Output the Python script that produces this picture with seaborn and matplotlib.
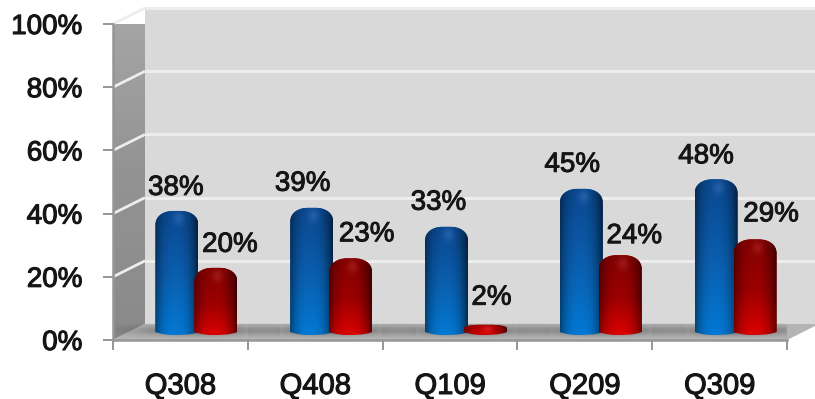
import numpy as np
import pandas as pd
import matplotlib
matplotlib.use("Agg")
import matplotlib.pyplot as plt
import matplotlib.patheffects as pe
import seaborn as sns
from matplotlib.patches import Polygon, PathPatch
from matplotlib.path import Path
from matplotlib.colors import LinearSegmentedColormap, to_rgb

quarters = ["Q308", "Q408", "Q109", "Q209", "Q309"]
blue_values = [38, 39, 33, 45, 48]
red_values = [20, 23, 2, 24, 29]

# label nudges in pixels, relative to the top centre of each bar
blue_nudge = [(-1, 23), (-9, 24), (-8, 24), (-9, 24), (-10, 23)]
red_nudge = [(14, 23), (16, 24), (6, 27), (14, 19), (16, 25)]

W, H = 815, 399
sns.set_theme(style="white")
plt.rcParams["font.family"] = ["Liberation Sans", "DejaVu Sans"]

fig = plt.figure(figsize=(W / 100, H / 100), dpi=100, facecolor="white")
ax = fig.add_axes([113 / W, (H - 340) / H, 674 / W, 316 / H])
ax.patch.set_alpha(0)

df = pd.DataFrame({
    "quarter": quarters * 2,
    "value": blue_values + red_values,
    "series": ["a"] * 5 + ["b"] * 5,
})
sns.barplot(data=df, x="quarter", y="value", hue="series", dodge=True, width=0.578,
            palette=["#0B5AA8", "#A00000"], legend=False, ax=ax, zorder=3,
            saturation=1, linewidth=0)

XMIN, XMAX, YMIN, YMAX = -0.5, 4.5, 0, 100
ppx = 674 / 5      # pixels per category
ppy = 316 / 100    # pixels per percent
DX, DY = 32 / ppx, 16 / ppy   # full depth of the box

# --- the box: side wall, back wall, floor, grid
ax.add_patch(Polygon([(XMIN + DX, DY), (XMAX + DX, DY), (XMAX + DX, YMAX + DY), (XMIN + DX, YMAX + DY)],
                     closed=True, fc="#D9D9D9", ec="none", clip_on=False, zorder=0.2))
wall_cmap = LinearSegmentedColormap.from_list("wall", ["#8A8A8A", "#939393", "#A6A6A6"])
im = ax.imshow(np.linspace(0, 1, 64)[:, None], extent=(XMIN, XMIN + DX, YMAX + DY, YMIN), cmap=wall_cmap,
               aspect="auto", zorder=0.3, clip_on=True)
side = Polygon([(XMIN, 0), (XMIN + DX, DY), (XMIN + DX, YMAX + DY), (XMIN, YMAX)],
               closed=True, transform=ax.transData, fc="none", ec="none")
im.set_clip_path(side)

for tick in range(0, 101, 20):
    if tick > 0:
        ax.plot([XMIN + DX, XMAX + DX], [tick + DY, tick + DY], color="#EDEDED", lw=2.2,
                clip_on=False, zorder=0.4, solid_capstyle="butt")
        ax.plot([XMIN, XMIN + DX], [tick, tick + DY], color="#EDEDED", lw=2.0,
                clip_on=False, zorder=0.4, solid_capstyle="butt")

ax.add_patch(Polygon([(XMIN, 0), (XMAX, 0), (XMAX + DX, DY), (XMIN + DX, DY)],
                     closed=True, fc="#B4B4B4", ec="none", clip_on=False, zorder=0.5))

# --- bars: seaborn's rectangles give position and height, gradients make them cylinders
def cylinder_rgb(top, mid, low, nrow, ncol, cap_frac):
    top, mid, low = map(lambda c: np.array(to_rgb(c)), (top, mid, low))
    t = np.linspace(0, 1, nrow)[:, None, None]
    col = np.where(t < 0.55, top + (mid - top) * t / 0.55, mid + (low - mid) * (t - 0.55) / 0.45)
    u = np.linspace(-1, 1, ncol)[None, :, None]
    prof = 1.04 - 0.52 * np.abs(u + 0.06) ** 2.6
    img = col * prof
    yy = np.linspace(0, 1, nrow)[:, None, None]
    spot = np.exp(-((u - 0.1) / 0.26) ** 2 - ((yy - cap_frac) / (cap_frac * 0.8 + 1e-3)) ** 2)
    return np.clip(img + 0.09 * spot, 0, 1)

def bar_outline(x0, x1, y0, y1):
    ry_top = min(14 / ppy, (y1 - y0) * 0.5)
    ry_bot = 3 / ppy
    rx = (x1 - x0) * 0.42
    verts = [(x0, y0), (x0, y1 - ry_top),
             (x0, y1 - ry_top * 0.35), (x0 + rx * 0.45, y1), (x0 + rx, y1),
             (x1 - rx, y1),
             (x1 - rx * 0.45, y1), (x1, y1 - ry_top * 0.35), (x1, y1 - ry_top),
             (x1, y0),
             (x1 - rx * 0.4, y0 - ry_bot), (x1 - rx, y0 - ry_bot), (x0 + rx, y0 - ry_bot),
             (x0 + rx * 0.4, y0 - ry_bot), (x0, y0), (x0, y0)]
    codes = [Path.MOVETO, Path.LINETO,
             Path.CURVE4, Path.CURVE4, Path.CURVE4,
             Path.LINETO,
             Path.CURVE4, Path.CURVE4, Path.CURVE4,
             Path.LINETO,
             Path.CURVE4, Path.CURVE4, Path.LINETO,
             Path.CURVE4, Path.CURVE4, Path.CURVE4]
    return Path(verts, codes)

BAR_W = 43 / ppx
offx, offy = 16 / ppx, 8 / ppy
styles = {0: ("#0A4488", "#0A5CAA", "#0274CC"), 1: ("#7C0000", "#980000", "#D40000")}
short_style = ("#A00000", "#B80000", "#C80000")
bars = list(ax.patches)
bars = [b for b in bars if isinstance(b, matplotlib.patches.Rectangle) and b.get_height() > 0]
nudges = blue_nudge + red_nudge

# soft shadows on the floor
for i in range(5):
    gx = np.exp(-(np.linspace(-1, 1, 200) / 0.72) ** 2)[None, :]
    gy = np.exp(-((np.linspace(0, 1, 30) - 0.5) / 0.35) ** 2)[:, None]
    rgba = np.zeros((30, 200, 4))
    rgba[..., 3] = 0.38 * gy * gx
    ax.imshow(rgba, extent=(i - 0.62 + offx, i + 0.62 + offx, 0.6, DY), aspect="auto", zorder=0.6)

for idx, b in enumerate(bars):
    series = 0 if idx < 5 else 1
    cx = b.get_x() + b.get_width() / 2 + offx
    h = b.get_height()
    x0, x1 = cx - BAR_W / 2, cx + BAR_W / 2
    y0, y1 = offy, h + offy + 1 / ppy
    z = 3 + series * 0.5
    path = bar_outline(x0, x1, y0, y1)
    clip = PathPatch(path, transform=ax.transData, fc="none", ec="none")
    nrow = max(int((y1 - y0 + 3 / ppy) * ppy), 8)
    style = short_style if nrow < 15 else styles[series]
    img = cylinder_rgb(*style, nrow, 60, min(0.45, 8 / nrow))
    cyl = ax.imshow(img, extent=(x0, x1, y0 - 3 / ppy, y1), aspect="auto", zorder=z + 0.1,
                    interpolation="bilinear", origin="upper")
    cyl.set_clip_path(clip)
    b.set_x(x0); b.set_width(BAR_W); b.set_y(y0); b.set_height(y1 - y0)
    b.set_zorder(z)
    b.set_clip_path(PathPatch(path, transform=ax.transData))
    nx, ny = nudges[idx]
    t = ax.annotate(f"{int(round(h))}%", (cx, y1), xytext=(nx, ny), textcoords="offset pixels",
                    ha="center", va="center", fontsize=20, color="#151515",
                    annotation_clip=False, zorder=6)
    t.set_path_effects([pe.withStroke(linewidth=0.7, foreground="#151515")])

ax.set_xlim(XMIN, XMAX)
ax.set_ylim(YMIN, YMAX)
ax.set_xlabel("")
ax.set_ylabel("")

# --- axes furniture
sns.despine(ax=ax, top=True, right=True)
for side_name in ("left", "bottom"):
    ax.spines[side_name].set_color("#969696")
    ax.spines[side_name].set_linewidth(1.8)
    ax.spines[side_name].set_zorder(1)
ax.set_yticks(range(0, 101, 20))
ax.set_yticklabels([f"{v}%" for v in range(0, 101, 20)])
ax.set_xticks(range(len(quarters)))
ax.set_xticklabels(quarters)
ax.set_xticks(np.arange(XMIN, XMAX + 0.1, 1), minor=True)
ax.tick_params(axis="x", which="major", length=0, pad=23, labelsize=21, labelcolor="#151515")
ax.tick_params(axis="x", which="minor", length=7, width=1.4, color="#969696", bottom=True)
ax.tick_params(axis="y", length=7, width=1.4, color="#969696", pad=15, labelsize=20, labelcolor="#151515", left=True)
for lab in ax.get_xticklabels() + ax.get_yticklabels():
    lab.set_path_effects([pe.withStroke(linewidth=0.8, foreground="#151515")])

fig.savefig("out.png", dpi=100, facecolor="white")
